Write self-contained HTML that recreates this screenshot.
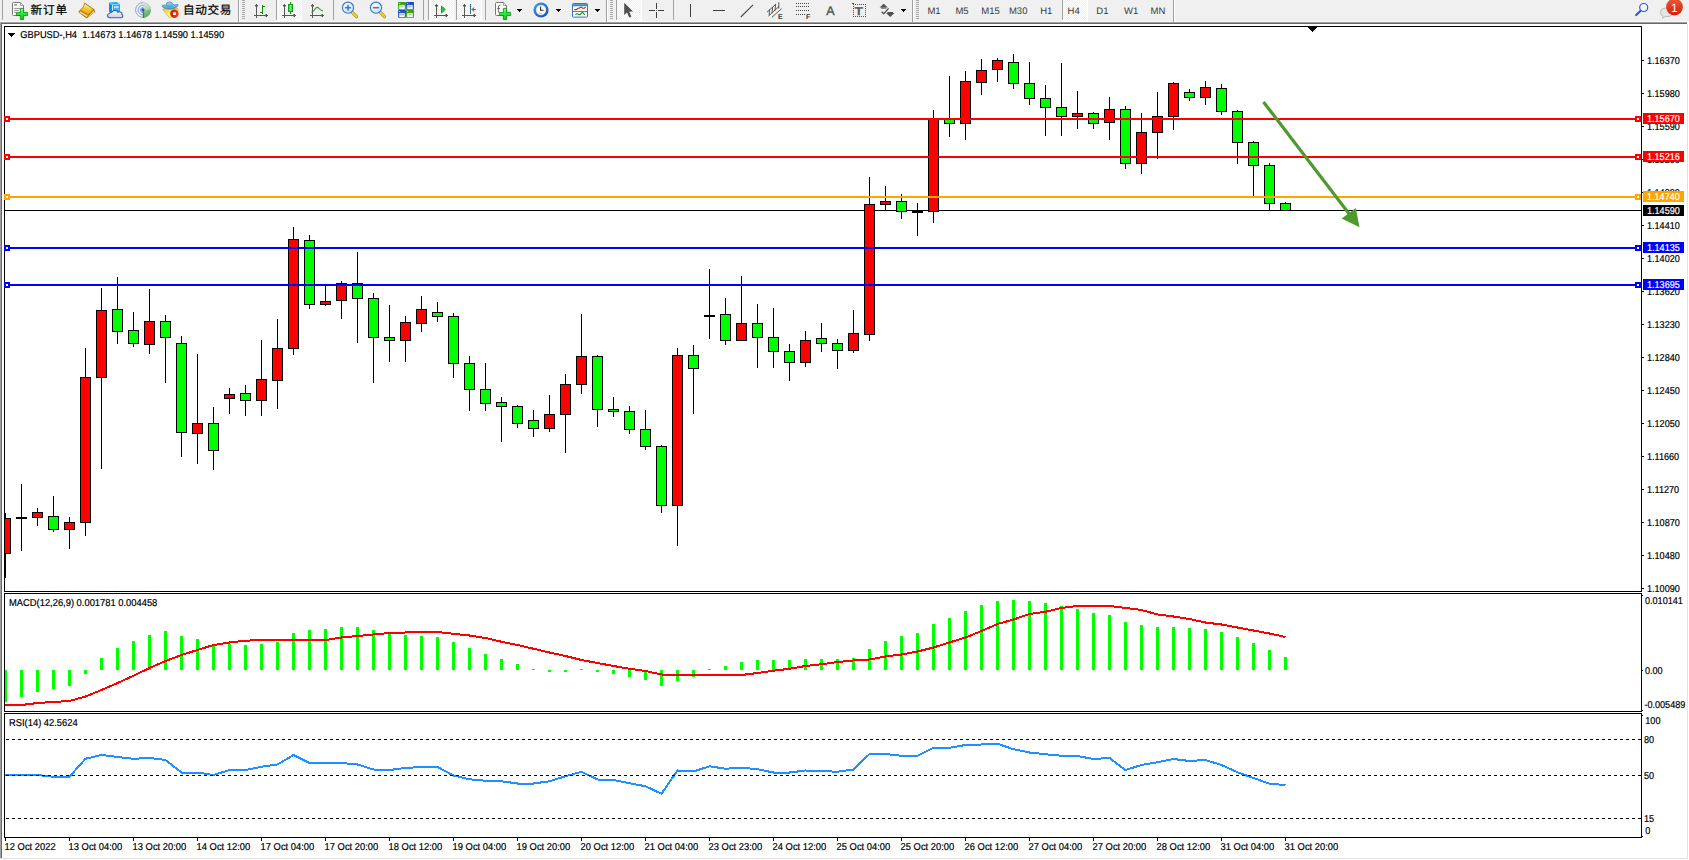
<!DOCTYPE html>
<html lang="zh"><head><meta charset="utf-8"><title>GBPUSD-,H4</title>
<style>html,body{margin:0;padding:0;background:#fff}body{width:1689px;height:860px;overflow:hidden;position:relative}svg{position:absolute;left:0;top:0;display:block}text{text-rendering:geometricPrecision;font-family:"Liberation Sans","Noto Sans CJK SC",sans-serif}</style></head><body>
<svg width="1689" height="860" viewBox="0 0 1689 860">
<defs><clipPath id="cpm"><rect x="5" y="27" width="1636" height="564"/></clipPath>
<pattern id="chk" width="2" height="2" patternUnits="userSpaceOnUse"><rect width="2" height="2" fill="#f0f0f0"/><rect width="1" height="1" fill="#fff"/><rect x="1" y="1" width="1" height="1" fill="#fff"/></pattern>
<linearGradient id="gPlus" x1="0" y1="0" x2="0" y2="1"><stop offset="0" stop-color="#8cf898"/><stop offset="0.5" stop-color="#20e838"/><stop offset="1" stop-color="#08c818"/></linearGradient>
<linearGradient id="gGold" x1="0" y1="0" x2="1" y2="1"><stop offset="0" stop-color="#c88a10"/><stop offset="0.45" stop-color="#f8d860"/><stop offset="1" stop-color="#c08010"/></linearGradient>
<linearGradient id="gCloud" x1="0" y1="0" x2="0" y2="1"><stop offset="0" stop-color="#ffffff"/><stop offset="1" stop-color="#c4d0e4"/></linearGradient>
<linearGradient id="gSrv" x1="0" y1="0" x2="1" y2="0"><stop offset="0" stop-color="#0a90f0"/><stop offset="1" stop-color="#30b8ff"/></linearGradient>
<linearGradient id="gHat" x1="0" y1="0" x2="0" y2="1"><stop offset="0" stop-color="#9ad2f4"/><stop offset="1" stop-color="#48a0d8"/></linearGradient>
<linearGradient id="gFace" x1="0" y1="0" x2="0.3" y2="1"><stop offset="0" stop-color="#f4cc28"/><stop offset="1" stop-color="#ffff98"/></linearGradient>
<linearGradient id="gBadge" x1="0" y1="0" x2="0" y2="1"><stop offset="0" stop-color="#ea5a3c"/><stop offset="1" stop-color="#d81c08"/></linearGradient>
<radialGradient id="gLens" cx="0.4" cy="0.35" r="0.8"><stop offset="0" stop-color="#ffffff"/><stop offset="1" stop-color="#b8dcf4"/></radialGradient>
<linearGradient id="gClock" x1="0" y1="0" x2="1" y2="1"><stop offset="0" stop-color="#40a8f8"/><stop offset="1" stop-color="#0848b0"/></linearGradient>
<linearGradient id="gCandle" x1="0" y1="0" x2="1" y2="0"><stop offset="0" stop-color="#20c030"/><stop offset="0.5" stop-color="#70f080"/><stop offset="1" stop-color="#20c030"/></linearGradient>
<linearGradient id="gTG" x1="0" y1="0" x2="0" y2="1"><stop offset="0" stop-color="#3a9a1a"/><stop offset="1" stop-color="#58b828"/></linearGradient>
<linearGradient id="gTB" x1="0" y1="0" x2="0" y2="1"><stop offset="0" stop-color="#1848c0"/><stop offset="1" stop-color="#3c78e8"/></linearGradient>
<linearGradient id="gTpl" x1="0" y1="0" x2="0" y2="1"><stop offset="0" stop-color="#6aa8e8"/><stop offset="1" stop-color="#3068c0"/></linearGradient>
<g id="axes" fill="#585858" shape-rendering="crispEdges"><rect x="3" y="2" width="1" height="14"/><rect x="1" y="13" width="14" height="1"/><rect x="2" y="3" width="3" height="1"/><rect x="2" y="4" width="1" height="1" opacity="0.5"/><rect x="4" y="4" width="1" height="1" opacity="0.5"/><rect x="13" y="12" width="1" height="3"/><rect x="12" y="12" width="1" height="1" opacity="0.5"/><rect x="12" y="14" width="1" height="1" opacity="0.5"/></g>
<g id="dd"><rect x="0" y="0" width="5" height="1"/><rect x="1" y="1" width="3" height="1"/><rect x="2" y="2" width="1" height="1"/></g>
<g id="grip" fill="#a8a8a8"><rect x="0" y="0" width="3" height="1"/><rect x="0" y="2" width="3" height="1"/><rect x="0" y="4" width="3" height="1"/><rect x="0" y="6" width="3" height="1"/><rect x="0" y="8" width="3" height="1"/><rect x="0" y="10" width="3" height="1"/><rect x="0" y="12" width="3" height="1"/><rect x="0" y="14" width="3" height="1"/><rect x="0" y="16" width="3" height="1"/><rect x="0" y="18" width="3" height="1"/></g>
<g id="plus"><path d="M4.4 0.4H7.6V4.4H11.6V7.6H7.6V11.6H4.4V7.6H0.4V4.4H4.4Z" fill="url(#gPlus)" stroke="#068806" stroke-width="0.8" stroke-linejoin="miter"/></g>
<g id="doc"><path d="M0.5 1.5Q0.5 0.5 1.5 0.5H8.5L11.5 3.5V12.5Q11.5 13.5 10.5 13.5H1.5Q0.5 13.5 0.5 12.5Z" fill="#fdfdfd" stroke="#787878" stroke-width="1"/><path d="M8.5 0.5V3.5H11.5" fill="#e4e4e4" stroke="#8c8c8c" stroke-width="0.8"/></g>
<linearGradient id="gGold2" x1="0.6" y1="0" x2="0.3" y2="1"><stop offset="0" stop-color="#fff8a8"/><stop offset="0.5" stop-color="#f2c628"/><stop offset="1" stop-color="#e0a410"/></linearGradient>
<linearGradient id="gRad" x1="0" y1="0" x2="0.4" y2="1"><stop offset="0" stop-color="#eaf0e6"/><stop offset="0.55" stop-color="#c4dcbc"/><stop offset="1" stop-color="#58b050"/></linearGradient>
<linearGradient id="gStop" x1="0" y1="0" x2="1" y2="0.3"><stop offset="0" stop-color="#b81c00"/><stop offset="1" stop-color="#ff3404"/></linearGradient>

</defs>
<rect x="0" y="0" width="1689" height="860" fill="#ffffff"/>
<g shape-rendering="crispEdges">
<rect x="0" y="0" width="1689" height="21" fill="#f0f0f0"/>
<rect x="0" y="21" width="1689" height="1" fill="#f8f8f8"/>
<rect x="0" y="22" width="1687" height="1" fill="#a0a0a0"/>
<rect x="1" y="23" width="1686" height="1" fill="#696969"/>
<rect x="0" y="22" width="1" height="836" fill="#a0a0a0"/>
<rect x="1" y="23" width="1" height="835" fill="#696969"/>
<rect x="1687" y="24" width="1" height="835" fill="#e3e3e3"/>
<rect x="0" y="858" width="1688" height="1" fill="#e3e3e3"/>
<rect x="4" y="26" width="1638" height="1" fill="#000"/>
<rect x="4" y="591" width="1638" height="1" fill="#000"/>
<rect x="4" y="26" width="1" height="566" fill="#000"/>
<rect x="1641" y="26" width="1" height="566" fill="#000"/>
<rect x="4" y="593" width="1638" height="1" fill="#000"/>
<rect x="4" y="711" width="1638" height="1" fill="#000"/>
<rect x="4" y="593" width="1" height="119" fill="#000"/>
<rect x="1641" y="593" width="1" height="119" fill="#000"/>
<rect x="4" y="713" width="1638" height="1" fill="#000"/>
<rect x="4" y="837" width="1638" height="1" fill="#000"/>
<rect x="4" y="713" width="1" height="125" fill="#000"/>
<rect x="1641" y="713" width="1" height="125" fill="#000"/>
<rect x="1642" y="60" width="2" height="1" fill="#000"/>
<rect x="1642" y="93" width="2" height="1" fill="#000"/>
<rect x="1642" y="126" width="2" height="1" fill="#000"/>
<rect x="1642" y="159" width="2" height="1" fill="#000"/>
<rect x="1642" y="192" width="2" height="1" fill="#000"/>
<rect x="1642" y="225" width="2" height="1" fill="#000"/>
<rect x="1642" y="258" width="2" height="1" fill="#000"/>
<rect x="1642" y="291" width="2" height="1" fill="#000"/>
<rect x="1642" y="324" width="2" height="1" fill="#000"/>
<rect x="1642" y="357" width="2" height="1" fill="#000"/>
<rect x="1642" y="390" width="2" height="1" fill="#000"/>
<rect x="1642" y="423" width="2" height="1" fill="#000"/>
<rect x="1642" y="456" width="2" height="1" fill="#000"/>
<rect x="1642" y="489" width="2" height="1" fill="#000"/>
<rect x="1642" y="522" width="2" height="1" fill="#000"/>
<rect x="1642" y="555" width="2" height="1" fill="#000"/>
<rect x="1642" y="588" width="2" height="1" fill="#000"/>
<rect x="1642" y="595" width="1" height="1" fill="#000"/>
<rect x="1642" y="670" width="1" height="1" fill="#000"/>
<rect x="1642" y="710" width="1" height="1" fill="#000"/>
<rect x="1642" y="715" width="1" height="1" fill="#000"/>
<rect x="1642" y="836" width="1" height="1" fill="#000"/>
<rect x="5" y="838" width="1" height="3" fill="#000"/>
<rect x="69" y="838" width="1" height="3" fill="#000"/>
<rect x="133" y="838" width="1" height="3" fill="#000"/>
<rect x="197" y="838" width="1" height="3" fill="#000"/>
<rect x="261" y="838" width="1" height="3" fill="#000"/>
<rect x="325" y="838" width="1" height="3" fill="#000"/>
<rect x="389" y="838" width="1" height="3" fill="#000"/>
<rect x="453" y="838" width="1" height="3" fill="#000"/>
<rect x="517" y="838" width="1" height="3" fill="#000"/>
<rect x="581" y="838" width="1" height="3" fill="#000"/>
<rect x="645" y="838" width="1" height="3" fill="#000"/>
<rect x="709" y="838" width="1" height="3" fill="#000"/>
<rect x="773" y="838" width="1" height="3" fill="#000"/>
<rect x="837" y="838" width="1" height="3" fill="#000"/>
<rect x="901" y="838" width="1" height="3" fill="#000"/>
<rect x="965" y="838" width="1" height="3" fill="#000"/>
<rect x="1029" y="838" width="1" height="3" fill="#000"/>
<rect x="1093" y="838" width="1" height="3" fill="#000"/>
<rect x="1157" y="838" width="1" height="3" fill="#000"/>
<rect x="1221" y="838" width="1" height="3" fill="#000"/>
<rect x="1285" y="838" width="1" height="3" fill="#000"/>
<rect x="1308" y="27" width="9" height="1" fill="#000"/>
<rect x="1309" y="28" width="7" height="1" fill="#000"/>
<rect x="1310" y="29" width="5" height="1" fill="#000"/>
<rect x="1311" y="30" width="3" height="1" fill="#000"/>
<rect x="1312" y="31" width="1" height="1" fill="#000"/>
<rect x="8" y="33" width="7" height="1" fill="#000"/>
<rect x="9" y="34" width="5" height="1" fill="#000"/>
<rect x="10" y="35" width="3" height="1" fill="#000"/>
<rect x="11" y="36" width="1" height="1" fill="#000"/>
</g>
<g>
<text transform="translate(1647,64) scale(0.908,1)" font-size="10.0" fill="#000" text-anchor="start" font-weight="normal" stroke="#000" stroke-width="0.2">1.16370</text>
<text transform="translate(1647,97) scale(0.908,1)" font-size="10.0" fill="#000" text-anchor="start" font-weight="normal" stroke="#000" stroke-width="0.2">1.15980</text>
<text transform="translate(1647,130) scale(0.908,1)" font-size="10.0" fill="#000" text-anchor="start" font-weight="normal" stroke="#000" stroke-width="0.2">1.15590</text>
<text transform="translate(1647,163) scale(0.908,1)" font-size="10.0" fill="#000" text-anchor="start" font-weight="normal" stroke="#000" stroke-width="0.2">1.15200</text>
<text transform="translate(1647,196) scale(0.908,1)" font-size="10.0" fill="#000" text-anchor="start" font-weight="normal" stroke="#000" stroke-width="0.2">1.14800</text>
<text transform="translate(1647,229) scale(0.908,1)" font-size="10.0" fill="#000" text-anchor="start" font-weight="normal" stroke="#000" stroke-width="0.2">1.14410</text>
<text transform="translate(1647,262) scale(0.908,1)" font-size="10.0" fill="#000" text-anchor="start" font-weight="normal" stroke="#000" stroke-width="0.2">1.14020</text>
<text transform="translate(1647,295) scale(0.908,1)" font-size="10.0" fill="#000" text-anchor="start" font-weight="normal" stroke="#000" stroke-width="0.2">1.13620</text>
<text transform="translate(1647,328) scale(0.908,1)" font-size="10.0" fill="#000" text-anchor="start" font-weight="normal" stroke="#000" stroke-width="0.2">1.13230</text>
<text transform="translate(1647,361) scale(0.908,1)" font-size="10.0" fill="#000" text-anchor="start" font-weight="normal" stroke="#000" stroke-width="0.2">1.12840</text>
<text transform="translate(1647,394) scale(0.908,1)" font-size="10.0" fill="#000" text-anchor="start" font-weight="normal" stroke="#000" stroke-width="0.2">1.12450</text>
<text transform="translate(1647,427) scale(0.908,1)" font-size="10.0" fill="#000" text-anchor="start" font-weight="normal" stroke="#000" stroke-width="0.2">1.12050</text>
<text transform="translate(1647,460) scale(0.908,1)" font-size="10.0" fill="#000" text-anchor="start" font-weight="normal" stroke="#000" stroke-width="0.2">1.11660</text>
<text transform="translate(1647,493) scale(0.908,1)" font-size="10.0" fill="#000" text-anchor="start" font-weight="normal" stroke="#000" stroke-width="0.2">1.11270</text>
<text transform="translate(1647,526) scale(0.908,1)" font-size="10.0" fill="#000" text-anchor="start" font-weight="normal" stroke="#000" stroke-width="0.2">1.10870</text>
<text transform="translate(1647,559) scale(0.908,1)" font-size="10.0" fill="#000" text-anchor="start" font-weight="normal" stroke="#000" stroke-width="0.2">1.10480</text>
<text transform="translate(1647,592) scale(0.908,1)" font-size="10.0" fill="#000" text-anchor="start" font-weight="normal" stroke="#000" stroke-width="0.2">1.10090</text>
<text transform="translate(1645,604) scale(0.908,1)" font-size="10.0" fill="#000" text-anchor="start" font-weight="normal" stroke="#000" stroke-width="0.2">0.010141</text>
<text transform="translate(1645,674) scale(0.908,1)" font-size="10.0" fill="#000" text-anchor="start" font-weight="normal" stroke="#000" stroke-width="0.2">0.00</text>
<text transform="translate(1644.4,708) scale(0.908,1)" font-size="10.0" fill="#000" text-anchor="start" font-weight="normal" stroke="#000" stroke-width="0.2">-0.005489</text>
<text transform="translate(1645.3,724) scale(0.908,1)" font-size="10.0" fill="#000" text-anchor="start" font-weight="normal" stroke="#000" stroke-width="0.2">100</text>
<text transform="translate(1644,743) scale(0.908,1)" font-size="10.0" fill="#000" text-anchor="start" font-weight="normal" stroke="#000" stroke-width="0.2">80</text>
<text transform="translate(1644,779) scale(0.908,1)" font-size="10.0" fill="#000" text-anchor="start" font-weight="normal" stroke="#000" stroke-width="0.2">50</text>
<text transform="translate(1644,822) scale(0.908,1)" font-size="10.0" fill="#000" text-anchor="start" font-weight="normal" stroke="#000" stroke-width="0.2">15</text>
<text transform="translate(1645.2,834) scale(0.908,1)" font-size="10.0" fill="#000" text-anchor="start" font-weight="normal" stroke="#000" stroke-width="0.2">0</text>
<text transform="translate(4.6,850) scale(0.936,1)" font-size="10.0" fill="#000" text-anchor="start" font-weight="normal" stroke="#000" stroke-width="0.2">12 Oct 2022</text>
<text transform="translate(68.6,850) scale(0.936,1)" font-size="10.0" fill="#000" text-anchor="start" font-weight="normal" stroke="#000" stroke-width="0.2">13 Oct 04:00</text>
<text transform="translate(132.6,850) scale(0.936,1)" font-size="10.0" fill="#000" text-anchor="start" font-weight="normal" stroke="#000" stroke-width="0.2">13 Oct 20:00</text>
<text transform="translate(196.6,850) scale(0.936,1)" font-size="10.0" fill="#000" text-anchor="start" font-weight="normal" stroke="#000" stroke-width="0.2">14 Oct 12:00</text>
<text transform="translate(260.6,850) scale(0.936,1)" font-size="10.0" fill="#000" text-anchor="start" font-weight="normal" stroke="#000" stroke-width="0.2">17 Oct 04:00</text>
<text transform="translate(324.6,850) scale(0.936,1)" font-size="10.0" fill="#000" text-anchor="start" font-weight="normal" stroke="#000" stroke-width="0.2">17 Oct 20:00</text>
<text transform="translate(388.6,850) scale(0.936,1)" font-size="10.0" fill="#000" text-anchor="start" font-weight="normal" stroke="#000" stroke-width="0.2">18 Oct 12:00</text>
<text transform="translate(452.6,850) scale(0.936,1)" font-size="10.0" fill="#000" text-anchor="start" font-weight="normal" stroke="#000" stroke-width="0.2">19 Oct 04:00</text>
<text transform="translate(516.6,850) scale(0.936,1)" font-size="10.0" fill="#000" text-anchor="start" font-weight="normal" stroke="#000" stroke-width="0.2">19 Oct 20:00</text>
<text transform="translate(580.6,850) scale(0.936,1)" font-size="10.0" fill="#000" text-anchor="start" font-weight="normal" stroke="#000" stroke-width="0.2">20 Oct 12:00</text>
<text transform="translate(644.6,850) scale(0.936,1)" font-size="10.0" fill="#000" text-anchor="start" font-weight="normal" stroke="#000" stroke-width="0.2">21 Oct 04:00</text>
<text transform="translate(708.6,850) scale(0.936,1)" font-size="10.0" fill="#000" text-anchor="start" font-weight="normal" stroke="#000" stroke-width="0.2">23 Oct 23:00</text>
<text transform="translate(772.6,850) scale(0.936,1)" font-size="10.0" fill="#000" text-anchor="start" font-weight="normal" stroke="#000" stroke-width="0.2">24 Oct 12:00</text>
<text transform="translate(836.6,850) scale(0.936,1)" font-size="10.0" fill="#000" text-anchor="start" font-weight="normal" stroke="#000" stroke-width="0.2">25 Oct 04:00</text>
<text transform="translate(900.6,850) scale(0.936,1)" font-size="10.0" fill="#000" text-anchor="start" font-weight="normal" stroke="#000" stroke-width="0.2">25 Oct 20:00</text>
<text transform="translate(964.6,850) scale(0.936,1)" font-size="10.0" fill="#000" text-anchor="start" font-weight="normal" stroke="#000" stroke-width="0.2">26 Oct 12:00</text>
<text transform="translate(1028.6,850) scale(0.936,1)" font-size="10.0" fill="#000" text-anchor="start" font-weight="normal" stroke="#000" stroke-width="0.2">27 Oct 04:00</text>
<text transform="translate(1092.6,850) scale(0.936,1)" font-size="10.0" fill="#000" text-anchor="start" font-weight="normal" stroke="#000" stroke-width="0.2">27 Oct 20:00</text>
<text transform="translate(1156.6,850) scale(0.936,1)" font-size="10.0" fill="#000" text-anchor="start" font-weight="normal" stroke="#000" stroke-width="0.2">28 Oct 12:00</text>
<text transform="translate(1220.6,850) scale(0.936,1)" font-size="10.0" fill="#000" text-anchor="start" font-weight="normal" stroke="#000" stroke-width="0.2">31 Oct 04:00</text>
<text transform="translate(1284.6,850) scale(0.936,1)" font-size="10.0" fill="#000" text-anchor="start" font-weight="normal" stroke="#000" stroke-width="0.2">31 Oct 20:00</text>
<text transform="translate(20.3,37.7) scale(0.928,1)" font-size="10.0" fill="#000" text-anchor="start" font-weight="normal" stroke="#000" stroke-width="0.2">GBPUSD-,H4&#160;&#160;1.14673 1.14678 1.14590 1.14590</text>
<text transform="translate(9,605.6) scale(0.936,1)" font-size="10.0" fill="#000" text-anchor="start" font-weight="normal" stroke="#000" stroke-width="0.2">MACD(12,26,9) 0.001781 0.004458</text>
<text transform="translate(9,726) scale(0.936,1)" font-size="10.0" fill="#000" text-anchor="start" font-weight="normal" stroke="#000" stroke-width="0.2">RSI(14) 42.5624</text>
</g>
<g shape-rendering="crispEdges">
<rect x="5" y="210" width="1636" height="1" fill="#000"/>
<g clip-path="url(#cpm)">
<rect x="5" y="513" width="1" height="65" fill="#000"/>
<rect x="0" y="518" width="11" height="36" fill="#000"/>
<rect x="1" y="519" width="9" height="34" fill="#ff0000"/>
<rect x="21" y="484" width="1" height="67" fill="#000"/>
<rect x="16" y="517" width="11" height="2" fill="#000"/>
<rect x="37" y="508" width="1" height="18" fill="#000"/>
<rect x="32" y="512" width="11" height="6" fill="#000"/>
<rect x="33" y="513" width="9" height="4" fill="#ff0000"/>
<rect x="53" y="496" width="1" height="36" fill="#000"/>
<rect x="48" y="516" width="11" height="14" fill="#000"/>
<rect x="49" y="517" width="9" height="12" fill="#00ff00"/>
<rect x="69" y="517" width="1" height="32" fill="#000"/>
<rect x="64" y="522" width="11" height="8" fill="#000"/>
<rect x="65" y="523" width="9" height="6" fill="#ff0000"/>
<rect x="85" y="348" width="1" height="188" fill="#000"/>
<rect x="80" y="377" width="11" height="146" fill="#000"/>
<rect x="81" y="378" width="9" height="144" fill="#ff0000"/>
<rect x="101" y="288" width="1" height="181" fill="#000"/>
<rect x="96" y="310" width="11" height="68" fill="#000"/>
<rect x="97" y="311" width="9" height="66" fill="#ff0000"/>
<rect x="117" y="277" width="1" height="67" fill="#000"/>
<rect x="112" y="309" width="11" height="23" fill="#000"/>
<rect x="113" y="310" width="9" height="21" fill="#00ff00"/>
<rect x="133" y="312" width="1" height="35" fill="#000"/>
<rect x="128" y="330" width="11" height="14" fill="#000"/>
<rect x="129" y="331" width="9" height="12" fill="#00ff00"/>
<rect x="149" y="289" width="1" height="65" fill="#000"/>
<rect x="144" y="321" width="11" height="24" fill="#000"/>
<rect x="145" y="322" width="9" height="22" fill="#ff0000"/>
<rect x="165" y="315" width="1" height="68" fill="#000"/>
<rect x="160" y="321" width="11" height="17" fill="#000"/>
<rect x="161" y="322" width="9" height="15" fill="#00ff00"/>
<rect x="181" y="336" width="1" height="121" fill="#000"/>
<rect x="176" y="343" width="11" height="90" fill="#000"/>
<rect x="177" y="344" width="9" height="88" fill="#00ff00"/>
<rect x="197" y="354" width="1" height="110" fill="#000"/>
<rect x="192" y="423" width="11" height="11" fill="#000"/>
<rect x="193" y="424" width="9" height="9" fill="#ff0000"/>
<rect x="213" y="407" width="1" height="63" fill="#000"/>
<rect x="208" y="423" width="11" height="28" fill="#000"/>
<rect x="209" y="424" width="9" height="26" fill="#00ff00"/>
<rect x="229" y="388" width="1" height="26" fill="#000"/>
<rect x="224" y="394" width="11" height="5" fill="#000"/>
<rect x="225" y="395" width="9" height="3" fill="#ff0000"/>
<rect x="245" y="385" width="1" height="31" fill="#000"/>
<rect x="240" y="393" width="11" height="8" fill="#000"/>
<rect x="241" y="394" width="9" height="6" fill="#00ff00"/>
<rect x="261" y="340" width="1" height="76" fill="#000"/>
<rect x="256" y="379" width="11" height="22" fill="#000"/>
<rect x="257" y="380" width="9" height="20" fill="#ff0000"/>
<rect x="277" y="319" width="1" height="90" fill="#000"/>
<rect x="272" y="348" width="11" height="33" fill="#000"/>
<rect x="273" y="349" width="9" height="31" fill="#ff0000"/>
<rect x="293" y="227" width="1" height="128" fill="#000"/>
<rect x="288" y="239" width="11" height="110" fill="#000"/>
<rect x="289" y="240" width="9" height="108" fill="#ff0000"/>
<rect x="309" y="235" width="1" height="74" fill="#000"/>
<rect x="304" y="240" width="11" height="65" fill="#000"/>
<rect x="305" y="241" width="9" height="63" fill="#00ff00"/>
<rect x="325" y="285" width="1" height="21" fill="#000"/>
<rect x="320" y="301" width="11" height="4" fill="#000"/>
<rect x="321" y="302" width="9" height="2" fill="#ff0000"/>
<rect x="341" y="281" width="1" height="38" fill="#000"/>
<rect x="336" y="283" width="11" height="18" fill="#000"/>
<rect x="337" y="284" width="9" height="16" fill="#ff0000"/>
<rect x="357" y="252" width="1" height="91" fill="#000"/>
<rect x="352" y="283" width="11" height="16" fill="#000"/>
<rect x="353" y="284" width="9" height="14" fill="#00ff00"/>
<rect x="373" y="293" width="1" height="90" fill="#000"/>
<rect x="368" y="298" width="11" height="40" fill="#000"/>
<rect x="369" y="299" width="9" height="38" fill="#00ff00"/>
<rect x="389" y="305" width="1" height="57" fill="#000"/>
<rect x="384" y="337" width="11" height="4" fill="#000"/>
<rect x="385" y="338" width="9" height="2" fill="#00ff00"/>
<rect x="405" y="316" width="1" height="46" fill="#000"/>
<rect x="400" y="322" width="11" height="19" fill="#000"/>
<rect x="401" y="323" width="9" height="17" fill="#ff0000"/>
<rect x="421" y="296" width="1" height="36" fill="#000"/>
<rect x="416" y="309" width="11" height="15" fill="#000"/>
<rect x="417" y="310" width="9" height="13" fill="#ff0000"/>
<rect x="437" y="302" width="1" height="20" fill="#000"/>
<rect x="432" y="312" width="11" height="5" fill="#000"/>
<rect x="433" y="313" width="9" height="3" fill="#00ff00"/>
<rect x="453" y="313" width="1" height="65" fill="#000"/>
<rect x="448" y="316" width="11" height="48" fill="#000"/>
<rect x="449" y="317" width="9" height="46" fill="#00ff00"/>
<rect x="469" y="356" width="1" height="55" fill="#000"/>
<rect x="464" y="363" width="11" height="27" fill="#000"/>
<rect x="465" y="364" width="9" height="25" fill="#00ff00"/>
<rect x="485" y="363" width="1" height="48" fill="#000"/>
<rect x="480" y="389" width="11" height="15" fill="#000"/>
<rect x="481" y="390" width="9" height="13" fill="#00ff00"/>
<rect x="501" y="397" width="1" height="45" fill="#000"/>
<rect x="496" y="402" width="11" height="5" fill="#000"/>
<rect x="497" y="403" width="9" height="3" fill="#00ff00"/>
<rect x="517" y="405" width="1" height="23" fill="#000"/>
<rect x="512" y="406" width="11" height="18" fill="#000"/>
<rect x="513" y="407" width="9" height="16" fill="#00ff00"/>
<rect x="533" y="410" width="1" height="27" fill="#000"/>
<rect x="528" y="420" width="11" height="9" fill="#000"/>
<rect x="529" y="421" width="9" height="7" fill="#00ff00"/>
<rect x="549" y="395" width="1" height="37" fill="#000"/>
<rect x="544" y="414" width="11" height="15" fill="#000"/>
<rect x="545" y="415" width="9" height="13" fill="#ff0000"/>
<rect x="565" y="374" width="1" height="79" fill="#000"/>
<rect x="560" y="384" width="11" height="31" fill="#000"/>
<rect x="561" y="385" width="9" height="29" fill="#ff0000"/>
<rect x="581" y="314" width="1" height="80" fill="#000"/>
<rect x="576" y="356" width="11" height="29" fill="#000"/>
<rect x="577" y="357" width="9" height="27" fill="#ff0000"/>
<rect x="597" y="355" width="1" height="72" fill="#000"/>
<rect x="592" y="356" width="11" height="54" fill="#000"/>
<rect x="593" y="357" width="9" height="52" fill="#00ff00"/>
<rect x="613" y="397" width="1" height="20" fill="#000"/>
<rect x="608" y="409" width="11" height="3" fill="#000"/>
<rect x="609" y="410" width="9" height="1" fill="#00ff00"/>
<rect x="629" y="406" width="1" height="28" fill="#000"/>
<rect x="624" y="411" width="11" height="19" fill="#000"/>
<rect x="625" y="412" width="9" height="17" fill="#00ff00"/>
<rect x="645" y="410" width="1" height="40" fill="#000"/>
<rect x="640" y="429" width="11" height="18" fill="#000"/>
<rect x="641" y="430" width="9" height="16" fill="#00ff00"/>
<rect x="661" y="445" width="1" height="68" fill="#000"/>
<rect x="656" y="446" width="11" height="60" fill="#000"/>
<rect x="657" y="447" width="9" height="58" fill="#00ff00"/>
<rect x="677" y="348" width="1" height="198" fill="#000"/>
<rect x="672" y="355" width="11" height="151" fill="#000"/>
<rect x="673" y="356" width="9" height="149" fill="#ff0000"/>
<rect x="693" y="345" width="1" height="69" fill="#000"/>
<rect x="688" y="355" width="11" height="14" fill="#000"/>
<rect x="689" y="356" width="9" height="12" fill="#00ff00"/>
<rect x="709" y="269" width="1" height="70" fill="#000"/>
<rect x="704" y="315" width="11" height="2" fill="#000"/>
<rect x="725" y="298" width="1" height="47" fill="#000"/>
<rect x="720" y="314" width="11" height="27" fill="#000"/>
<rect x="721" y="315" width="9" height="25" fill="#00ff00"/>
<rect x="741" y="276" width="1" height="65" fill="#000"/>
<rect x="736" y="323" width="11" height="18" fill="#000"/>
<rect x="737" y="324" width="9" height="16" fill="#ff0000"/>
<rect x="757" y="304" width="1" height="64" fill="#000"/>
<rect x="752" y="323" width="11" height="15" fill="#000"/>
<rect x="753" y="324" width="9" height="13" fill="#00ff00"/>
<rect x="773" y="308" width="1" height="60" fill="#000"/>
<rect x="768" y="337" width="11" height="15" fill="#000"/>
<rect x="769" y="338" width="9" height="13" fill="#00ff00"/>
<rect x="789" y="344" width="1" height="37" fill="#000"/>
<rect x="784" y="351" width="11" height="12" fill="#000"/>
<rect x="785" y="352" width="9" height="10" fill="#00ff00"/>
<rect x="805" y="331" width="1" height="36" fill="#000"/>
<rect x="800" y="340" width="11" height="23" fill="#000"/>
<rect x="801" y="341" width="9" height="21" fill="#ff0000"/>
<rect x="821" y="323" width="1" height="29" fill="#000"/>
<rect x="816" y="338" width="11" height="6" fill="#000"/>
<rect x="817" y="339" width="9" height="4" fill="#00ff00"/>
<rect x="837" y="339" width="1" height="30" fill="#000"/>
<rect x="832" y="343" width="11" height="8" fill="#000"/>
<rect x="833" y="344" width="9" height="6" fill="#00ff00"/>
<rect x="853" y="310" width="1" height="43" fill="#000"/>
<rect x="848" y="333" width="11" height="18" fill="#000"/>
<rect x="849" y="334" width="9" height="16" fill="#ff0000"/>
<rect x="869" y="177" width="1" height="164" fill="#000"/>
<rect x="864" y="204" width="11" height="131" fill="#000"/>
<rect x="865" y="205" width="9" height="129" fill="#ff0000"/>
<rect x="885" y="186" width="1" height="25" fill="#000"/>
<rect x="880" y="201" width="11" height="4" fill="#000"/>
<rect x="881" y="202" width="9" height="2" fill="#ff0000"/>
<rect x="901" y="194" width="1" height="25" fill="#000"/>
<rect x="896" y="201" width="11" height="11" fill="#000"/>
<rect x="897" y="202" width="9" height="9" fill="#00ff00"/>
<rect x="917" y="203" width="1" height="33" fill="#000"/>
<rect x="912" y="211" width="11" height="2" fill="#000"/>
<rect x="933" y="110" width="1" height="113" fill="#000"/>
<rect x="928" y="118" width="11" height="94" fill="#000"/>
<rect x="929" y="119" width="9" height="92" fill="#ff0000"/>
<rect x="949" y="76" width="1" height="61" fill="#000"/>
<rect x="944" y="119" width="11" height="5" fill="#000"/>
<rect x="945" y="120" width="9" height="3" fill="#00ff00"/>
<rect x="965" y="71" width="1" height="69" fill="#000"/>
<rect x="960" y="81" width="11" height="43" fill="#000"/>
<rect x="961" y="82" width="9" height="41" fill="#ff0000"/>
<rect x="981" y="59" width="1" height="36" fill="#000"/>
<rect x="976" y="70" width="11" height="13" fill="#000"/>
<rect x="977" y="71" width="9" height="11" fill="#ff0000"/>
<rect x="997" y="58" width="1" height="24" fill="#000"/>
<rect x="992" y="60" width="11" height="10" fill="#000"/>
<rect x="993" y="61" width="9" height="8" fill="#ff0000"/>
<rect x="1013" y="54" width="1" height="35" fill="#000"/>
<rect x="1008" y="62" width="11" height="22" fill="#000"/>
<rect x="1009" y="63" width="9" height="20" fill="#00ff00"/>
<rect x="1029" y="62" width="1" height="43" fill="#000"/>
<rect x="1024" y="83" width="11" height="16" fill="#000"/>
<rect x="1025" y="84" width="9" height="14" fill="#00ff00"/>
<rect x="1045" y="85" width="1" height="51" fill="#000"/>
<rect x="1040" y="98" width="11" height="10" fill="#000"/>
<rect x="1041" y="99" width="9" height="8" fill="#00ff00"/>
<rect x="1061" y="63" width="1" height="73" fill="#000"/>
<rect x="1056" y="107" width="11" height="10" fill="#000"/>
<rect x="1057" y="108" width="9" height="8" fill="#00ff00"/>
<rect x="1077" y="91" width="1" height="38" fill="#000"/>
<rect x="1072" y="113" width="11" height="4" fill="#000"/>
<rect x="1073" y="114" width="9" height="2" fill="#ff0000"/>
<rect x="1093" y="112" width="1" height="17" fill="#000"/>
<rect x="1088" y="113" width="11" height="11" fill="#000"/>
<rect x="1089" y="114" width="9" height="9" fill="#00ff00"/>
<rect x="1109" y="97" width="1" height="43" fill="#000"/>
<rect x="1104" y="109" width="11" height="14" fill="#000"/>
<rect x="1105" y="110" width="9" height="12" fill="#ff0000"/>
<rect x="1125" y="106" width="1" height="63" fill="#000"/>
<rect x="1120" y="109" width="11" height="55" fill="#000"/>
<rect x="1121" y="110" width="9" height="53" fill="#00ff00"/>
<rect x="1141" y="113" width="1" height="61" fill="#000"/>
<rect x="1136" y="132" width="11" height="32" fill="#000"/>
<rect x="1137" y="133" width="9" height="30" fill="#ff0000"/>
<rect x="1157" y="92" width="1" height="67" fill="#000"/>
<rect x="1152" y="116" width="11" height="17" fill="#000"/>
<rect x="1153" y="117" width="9" height="15" fill="#ff0000"/>
<rect x="1173" y="82" width="1" height="48" fill="#000"/>
<rect x="1168" y="83" width="11" height="34" fill="#000"/>
<rect x="1169" y="84" width="9" height="32" fill="#ff0000"/>
<rect x="1189" y="89" width="1" height="12" fill="#000"/>
<rect x="1184" y="92" width="11" height="6" fill="#000"/>
<rect x="1185" y="93" width="9" height="4" fill="#00ff00"/>
<rect x="1205" y="81" width="1" height="24" fill="#000"/>
<rect x="1200" y="87" width="11" height="11" fill="#000"/>
<rect x="1201" y="88" width="9" height="9" fill="#ff0000"/>
<rect x="1221" y="84" width="1" height="31" fill="#000"/>
<rect x="1216" y="88" width="11" height="24" fill="#000"/>
<rect x="1217" y="89" width="9" height="22" fill="#00ff00"/>
<rect x="1237" y="110" width="1" height="54" fill="#000"/>
<rect x="1232" y="111" width="11" height="32" fill="#000"/>
<rect x="1233" y="112" width="9" height="30" fill="#00ff00"/>
<rect x="1253" y="141" width="1" height="55" fill="#000"/>
<rect x="1248" y="142" width="11" height="24" fill="#000"/>
<rect x="1249" y="143" width="9" height="22" fill="#00ff00"/>
<rect x="1269" y="163" width="1" height="48" fill="#000"/>
<rect x="1264" y="165" width="11" height="39" fill="#000"/>
<rect x="1265" y="166" width="9" height="37" fill="#00ff00"/>
<rect x="1285" y="202" width="1" height="9" fill="#000"/>
<rect x="1280" y="203" width="11" height="8" fill="#000"/>
<rect x="1281" y="204" width="9" height="6" fill="#00ff00"/>
</g>
<rect x="5" y="118" width="1636" height="2" fill="#ff0000"/>
<rect x="4" y="116" width="6" height="6" fill="#ff0000"/>
<rect x="6" y="118" width="2" height="2" fill="#fff"/>
<rect x="1635" y="116" width="6" height="6" fill="#ff0000"/>
<rect x="1637" y="118" width="2" height="2" fill="#fff"/>
<rect x="5" y="156" width="1636" height="2" fill="#ff0000"/>
<rect x="4" y="154" width="6" height="6" fill="#ff0000"/>
<rect x="6" y="156" width="2" height="2" fill="#fff"/>
<rect x="1635" y="154" width="6" height="6" fill="#ff0000"/>
<rect x="1637" y="156" width="2" height="2" fill="#fff"/>
<rect x="5" y="196" width="1636" height="2" fill="#ffa500"/>
<rect x="4" y="194" width="6" height="6" fill="#ffa500"/>
<rect x="6" y="196" width="2" height="2" fill="#fff"/>
<rect x="1635" y="194" width="6" height="6" fill="#ffa500"/>
<rect x="1637" y="196" width="2" height="2" fill="#fff"/>
<rect x="5" y="247" width="1636" height="2" fill="#0000ff"/>
<rect x="4" y="245" width="6" height="6" fill="#0000ff"/>
<rect x="6" y="247" width="2" height="2" fill="#fff"/>
<rect x="1635" y="245" width="6" height="6" fill="#0000ff"/>
<rect x="1637" y="247" width="2" height="2" fill="#fff"/>
<rect x="5" y="284" width="1636" height="2" fill="#0000ff"/>
<rect x="4" y="282" width="6" height="6" fill="#0000ff"/>
<rect x="6" y="284" width="2" height="2" fill="#fff"/>
<rect x="1635" y="282" width="6" height="6" fill="#0000ff"/>
<rect x="1637" y="284" width="2" height="2" fill="#fff"/>
<rect x="5" y="670" width="2" height="32" fill="#00ff00"/>
<rect x="20" y="670" width="3" height="27" fill="#00ff00"/>
<rect x="36" y="670" width="3" height="22" fill="#00ff00"/>
<rect x="52" y="670" width="3" height="19" fill="#00ff00"/>
<rect x="68" y="670" width="3" height="16" fill="#00ff00"/>
<rect x="84" y="670" width="3" height="4" fill="#00ff00"/>
<rect x="100" y="658" width="3" height="12" fill="#00ff00"/>
<rect x="116" y="648" width="3" height="22" fill="#00ff00"/>
<rect x="132" y="641" width="3" height="29" fill="#00ff00"/>
<rect x="148" y="635" width="3" height="35" fill="#00ff00"/>
<rect x="164" y="631" width="3" height="39" fill="#00ff00"/>
<rect x="180" y="636" width="3" height="34" fill="#00ff00"/>
<rect x="196" y="639" width="3" height="31" fill="#00ff00"/>
<rect x="212" y="644" width="3" height="26" fill="#00ff00"/>
<rect x="228" y="644" width="3" height="26" fill="#00ff00"/>
<rect x="244" y="645" width="3" height="25" fill="#00ff00"/>
<rect x="260" y="644" width="3" height="26" fill="#00ff00"/>
<rect x="276" y="642" width="3" height="28" fill="#00ff00"/>
<rect x="292" y="633" width="3" height="37" fill="#00ff00"/>
<rect x="308" y="630" width="3" height="40" fill="#00ff00"/>
<rect x="324" y="629" width="3" height="41" fill="#00ff00"/>
<rect x="340" y="627" width="3" height="43" fill="#00ff00"/>
<rect x="356" y="627" width="3" height="43" fill="#00ff00"/>
<rect x="372" y="630" width="3" height="40" fill="#00ff00"/>
<rect x="388" y="634" width="3" height="36" fill="#00ff00"/>
<rect x="404" y="635" width="3" height="35" fill="#00ff00"/>
<rect x="420" y="636" width="3" height="34" fill="#00ff00"/>
<rect x="436" y="637" width="3" height="33" fill="#00ff00"/>
<rect x="452" y="642" width="3" height="28" fill="#00ff00"/>
<rect x="468" y="648" width="3" height="22" fill="#00ff00"/>
<rect x="484" y="654" width="3" height="16" fill="#00ff00"/>
<rect x="500" y="659" width="3" height="11" fill="#00ff00"/>
<rect x="516" y="664" width="3" height="6" fill="#00ff00"/>
<rect x="532" y="669" width="3" height="1" fill="#00ff00"/>
<rect x="548" y="670" width="3" height="2" fill="#00ff00"/>
<rect x="564" y="670" width="3" height="2" fill="#00ff00"/>
<rect x="580" y="669" width="3" height="1" fill="#00ff00"/>
<rect x="596" y="670" width="3" height="2" fill="#00ff00"/>
<rect x="612" y="670" width="3" height="4" fill="#00ff00"/>
<rect x="628" y="670" width="3" height="7" fill="#00ff00"/>
<rect x="644" y="670" width="3" height="10" fill="#00ff00"/>
<rect x="660" y="670" width="3" height="16" fill="#00ff00"/>
<rect x="676" y="670" width="3" height="11" fill="#00ff00"/>
<rect x="692" y="670" width="3" height="7" fill="#00ff00"/>
<rect x="708" y="669" width="3" height="1" fill="#00ff00"/>
<rect x="724" y="666" width="3" height="4" fill="#00ff00"/>
<rect x="740" y="662" width="3" height="8" fill="#00ff00"/>
<rect x="756" y="660" width="3" height="10" fill="#00ff00"/>
<rect x="772" y="660" width="3" height="10" fill="#00ff00"/>
<rect x="788" y="660" width="3" height="10" fill="#00ff00"/>
<rect x="804" y="659" width="3" height="11" fill="#00ff00"/>
<rect x="820" y="659" width="3" height="11" fill="#00ff00"/>
<rect x="836" y="659" width="3" height="11" fill="#00ff00"/>
<rect x="852" y="658" width="3" height="12" fill="#00ff00"/>
<rect x="868" y="649" width="3" height="21" fill="#00ff00"/>
<rect x="884" y="641" width="3" height="29" fill="#00ff00"/>
<rect x="900" y="636" width="3" height="34" fill="#00ff00"/>
<rect x="916" y="633" width="3" height="37" fill="#00ff00"/>
<rect x="932" y="624" width="3" height="46" fill="#00ff00"/>
<rect x="948" y="618" width="3" height="52" fill="#00ff00"/>
<rect x="964" y="611" width="3" height="59" fill="#00ff00"/>
<rect x="980" y="605" width="3" height="65" fill="#00ff00"/>
<rect x="996" y="601" width="3" height="69" fill="#00ff00"/>
<rect x="1012" y="600" width="3" height="70" fill="#00ff00"/>
<rect x="1028" y="601" width="3" height="69" fill="#00ff00"/>
<rect x="1044" y="603" width="3" height="67" fill="#00ff00"/>
<rect x="1060" y="606" width="3" height="64" fill="#00ff00"/>
<rect x="1076" y="609" width="3" height="61" fill="#00ff00"/>
<rect x="1092" y="613" width="3" height="57" fill="#00ff00"/>
<rect x="1108" y="615" width="3" height="55" fill="#00ff00"/>
<rect x="1124" y="622" width="3" height="48" fill="#00ff00"/>
<rect x="1140" y="625" width="3" height="45" fill="#00ff00"/>
<rect x="1156" y="627" width="3" height="43" fill="#00ff00"/>
<rect x="1172" y="627" width="3" height="43" fill="#00ff00"/>
<rect x="1188" y="628" width="3" height="42" fill="#00ff00"/>
<rect x="1204" y="629" width="3" height="41" fill="#00ff00"/>
<rect x="1220" y="632" width="3" height="38" fill="#00ff00"/>
<rect x="1236" y="637" width="3" height="33" fill="#00ff00"/>
<rect x="1252" y="643" width="3" height="27" fill="#00ff00"/>
<rect x="1268" y="650" width="3" height="20" fill="#00ff00"/>
<rect x="1284" y="657" width="3" height="13" fill="#00ff00"/>
<polyline points="5,705 5.5,705 21.5,705 37.5,703 53.5,702 69.5,701 85.5,696.5 101.5,690 117.5,683 133.5,675.7 149.5,668 165.5,661 181.5,655 197.5,650 213.5,645 229.5,642.5 245.5,640.7 261.5,640 325.5,640 341.5,637.5 357.5,636 373.5,634.5 389.5,633 405.5,632.5 421.5,632 437.5,632 453.5,633.75 469.5,635.5 485.5,638 501.5,641.75 517.5,645 533.5,648.75 549.5,652.5 565.5,656 581.5,660 597.5,663 613.5,666 629.5,668.75 645.5,671 661.5,674.5 677.5,675 741.5,675 757.5,673 773.5,670.75 789.5,668.75 805.5,666 821.5,664.25 837.5,662 853.5,660.5 869.5,659.5 885.5,656.5 901.5,654.5 917.5,651.5 933.5,647.5 949.5,642.5 965.5,637.5 981.5,631 997.5,624 1013.5,619.5 1029.5,614 1045.5,611.75 1061.5,608 1077.5,606 1093.5,605.75 1109.5,606 1125.5,608 1141.5,610 1157.5,614.5 1173.5,616.5 1189.5,619 1205.5,622.5 1221.5,624.5 1237.5,627.5 1253.5,630.5 1269.5,633.5 1285.5,637" fill="none" stroke="#ff0000" stroke-width="2"/>
<polyline points="5,775 5.5,775 21.5,775 37.5,775 53.5,776.75 69.5,776.75 85.5,758.75 101.5,755 117.5,757 133.5,758.75 149.5,758 165.5,760 181.5,772.5 197.5,772.5 213.5,775 229.5,770 245.5,770 261.5,766.75 277.5,764.5 293.5,755 309.5,763 325.5,763 341.5,763 357.5,764.5 373.5,769.5 389.5,770 405.5,768 421.5,767 437.5,767 453.5,775.5 469.5,779.25 485.5,780.75 501.5,781.25 517.5,783.5 533.5,783.5 549.5,781.25 565.5,776.25 581.5,771.75 597.5,779.5 613.5,780 629.5,783.25 645.5,786.25 661.5,793.75 677.5,770.5 693.5,771.5 709.5,766.25 725.5,768.75 741.5,767.75 757.5,769.25 773.5,772.5 789.5,772.5 805.5,770.5 821.5,771 837.5,771.75 853.5,769.5 869.5,754 885.5,754 901.5,755.75 917.5,755.75 933.5,747.75 949.5,747.75 965.5,745 981.5,744.5 997.5,743.75 1013.5,749.25 1029.5,752.5 1045.5,754.25 1061.5,755.75 1077.5,756 1093.5,759 1109.5,758 1125.5,770 1141.5,765 1157.5,762.25 1173.5,759 1189.5,761 1205.5,760 1221.5,765 1237.5,772.25 1253.5,778 1269.5,783.75 1285.5,785" fill="none" stroke="#1e90ff" stroke-width="2"/>
<path d="M6 739.5H1641" stroke="#000" stroke-width="1" stroke-dasharray="3 3" fill="none"/>
<path d="M6 775.5H1641" stroke="#000" stroke-width="1" stroke-dasharray="3 3" fill="none"/>
<path d="M6 818.5H1641" stroke="#000" stroke-width="1" stroke-dasharray="3 3" fill="none"/>
<rect x="1643" y="113" width="41" height="11" fill="#ff0000"/>
<rect x="1643" y="151" width="41" height="11" fill="#ff0000"/>
<rect x="1643" y="191" width="41" height="11" fill="#ffa500"/>
<rect x="1643" y="205" width="41" height="11" fill="#000"/>
<rect x="1643" y="242" width="41" height="11" fill="#0000ff"/>
<rect x="1643" y="279" width="41" height="11" fill="#0000ff"/>
</g>
<text transform="translate(1647,122) scale(0.908,1)" font-size="10.0" fill="#fff" text-anchor="start" font-weight="normal" stroke="#fff" stroke-width="0.2">1.15670</text>
<text transform="translate(1647,160) scale(0.908,1)" font-size="10.0" fill="#fff" text-anchor="start" font-weight="normal" stroke="#fff" stroke-width="0.2">1.15216</text>
<text transform="translate(1647,200) scale(0.908,1)" font-size="10.0" fill="#fff" text-anchor="start" font-weight="normal" stroke="#fff" stroke-width="0.2">1.14740</text>
<text transform="translate(1647,214) scale(0.908,1)" font-size="10.0" fill="#fff" text-anchor="start" font-weight="normal" stroke="#fff" stroke-width="0.2">1.14590</text>
<text transform="translate(1647,251) scale(0.908,1)" font-size="10.0" fill="#fff" text-anchor="start" font-weight="normal" stroke="#fff" stroke-width="0.2">1.14135</text>
<text transform="translate(1647,288) scale(0.908,1)" font-size="10.0" fill="#fff" text-anchor="start" font-weight="normal" stroke="#fff" stroke-width="0.2">1.13695</text>
<g><line x1="1263.5" y1="102" x2="1350" y2="215" stroke="#4e9a2e" stroke-width="3.2"/><polygon points="1359.5,227.3 1341.7,218.4 1355.8,207.9" fill="#4e9a2e"/></g>
<g id="toolbar">
<g shape-rendering="crispEdges">
<rect x="238" y="0" width="1" height="22" fill="#a0a0a0"/>
<rect x="239" y="0" width="1" height="22" fill="#ffffff"/>
<rect x="606" y="0" width="1" height="22" fill="#a0a0a0"/>
<rect x="607" y="0" width="1" height="22" fill="#ffffff"/>
<rect x="912" y="0" width="1" height="22" fill="#a0a0a0"/>
<rect x="913" y="0" width="1" height="22" fill="#ffffff"/>
<rect x="1173" y="0" width="1" height="22" fill="#a0a0a0"/>
<rect x="1174" y="0" width="1" height="22" fill="#ffffff"/>
<use href="#grip" x="242" y="0"/>
<use href="#grip" x="610" y="0"/>
<use href="#grip" x="916" y="0"/>
<rect x="2" y="0" width="1" height="20" fill="#a0a0a0"/>
<rect x="333" y="0" width="1" height="20" fill="#a0a0a0"/>
<rect x="423" y="0" width="1" height="20" fill="#a0a0a0"/>
<rect x="485" y="0" width="1" height="20" fill="#a0a0a0"/>
<rect x="673" y="0" width="1" height="20" fill="#a0a0a0"/>
<rect x="277" y="0" width="24" height="20" fill="url(#chk)"/>
<rect x="276" y="0" width="1" height="20" fill="#a0a0a0"/>
<rect x="276" y="20" width="26" height="1" fill="#ffffff"/>
<rect x="301" y="0" width="1" height="20" fill="#ffffff"/>
<rect x="429" y="0" width="24" height="20" fill="url(#chk)"/>
<rect x="428" y="0" width="1" height="20" fill="#a0a0a0"/>
<rect x="428" y="20" width="26" height="1" fill="#ffffff"/>
<rect x="453" y="0" width="1" height="20" fill="#ffffff"/>
<rect x="457" y="0" width="24" height="20" fill="url(#chk)"/>
<rect x="456" y="0" width="1" height="20" fill="#a0a0a0"/>
<rect x="456" y="20" width="26" height="1" fill="#ffffff"/>
<rect x="481" y="0" width="1" height="20" fill="#ffffff"/>
<rect x="617" y="0" width="24" height="20" fill="url(#chk)"/>
<rect x="616" y="0" width="1" height="20" fill="#a0a0a0"/>
<rect x="616" y="20" width="26" height="1" fill="#ffffff"/>
<rect x="641" y="0" width="1" height="20" fill="#ffffff"/>
<rect x="1063" y="0" width="24" height="20" fill="url(#chk)"/>
<rect x="1062" y="0" width="1" height="20" fill="#a0a0a0"/>
<rect x="1062" y="20" width="26" height="1" fill="#ffffff"/>
<rect x="1087" y="0" width="1" height="20" fill="#ffffff"/>
<use href="#dd" x="517" y="9" fill="#000"/>
<use href="#dd" x="556" y="9" fill="#000"/>
<use href="#dd" x="595" y="9" fill="#000"/>
<use href="#dd" x="901" y="9" fill="#000"/>
</g>
<g transform="translate(12,2)"><use href="#doc"/><rect x="2.2" y="2.2" width="2.8" height="1.5" fill="#8c8c8c"/><path d="M2.2 6.5H8M2.2 8.5H6.8M2.2 10.5H4" stroke="#8c8c8c" stroke-width="0.9" fill="none"/></g>
<use href="#plus" transform="translate(16,8)"/>
<g><path d="M84.6 2.5L94.2 9.3L95.1 12L87.2 17.9H86L78.7 12.6V11.3L83 7Z" fill="#b47406"/><path d="M85 3.7L93 9.6L88.2 14.6L80.6 10.2L83.7 7Z" fill="url(#gGold2)"/><path d="M80 11.2L87.8 15.6L86.9 17L79.5 12.5Z" fill="#f4d878"/><path d="M80 12L87.2 16.4" stroke="#fff4c0" stroke-width="0.6" opacity="0.8"/><path d="M88.9 15.4L93.6 10.6L94.3 12L88.2 16.8Z" fill="#e6d898"/></g>
<g transform="translate(107,2)"><path d="M2 0.5L9.8 0.1L13 2V10H2Z" fill="#1aa8fa"/><path d="M2 0.5L5.5 2.6V10H2Z" fill="#0a8ef0"/><path d="M2.3 0.8L5.5 2.7L12.8 2.1" stroke="#c8ecff" stroke-width="0.7" fill="none"/><path d="M5.5 2.7V9" stroke="#f0faff" stroke-width="0.8"/><rect x="7" y="4.3" width="4.8" height="1.4" fill="#eaf8ff"/><rect x="6.6" y="6.6" width="5.8" height="0.8" fill="#7cd2ff"/><path d="M3 15.7Q0.5 15.7 0.5 13.5Q0.5 11.7 2.7 11.5Q3 9.9 5 10.1Q6 8.3 8.2 8.4Q10.4 8.5 11 10.3Q12.6 9.3 14 10.3Q15.2 11.1 14.8 12.3Q16 12.9 15.8 14.3Q15.6 15.7 13.6 15.7Z" fill="url(#gCloud)" stroke="#40609c" stroke-width="1.1"/></g>
<g transform="translate(135,2)" fill="none"><path d="M8 0.1A7.9 7.9 0 0 1 8 15.9Z" fill="url(#gRad)"/><path d="M8 8L15.9 8A7.9 7.9 0 0 1 8 15.9Z" fill="#3ca038" opacity="0.3"/><g stroke="#7aa4b4" opacity="0.45" stroke-width="0.9"><path d="M8 0.6A7.4 7.4 0 0 1 8 15.4"/><path d="M8 3.1A4.9 4.9 0 0 1 8 12.9"/><path d="M8 5.5A2.5 2.5 0 0 1 8 10.5"/></g><g stroke="#3a68d4" stroke-width="1"><path d="M8 0.6A7.4 7.4 0 0 0 8 15.4" opacity="0.55"/><path d="M8 3.1A4.9 4.9 0 0 0 8 12.9" opacity="0.6"/><path d="M8 5.5A2.5 2.5 0 0 0 8 10.5" opacity="0.7"/></g><circle cx="7.9" cy="7.8" r="1.6" fill="#2456c8"/><path d="M8.5 8.2V15.9" stroke="#12a012" stroke-width="1.3"/></g>
<g><path d="M162.6 9.2L178 8.6L178 11L170.4 17.8H169.4Z" fill="url(#gFace)" stroke="#c8a010" stroke-width="0.6"/><path d="M162.2 6.6Q162 5 164 5.2Q165.6 5.6 166 4.4Q166.4 2 169.4 1.9Q172.6 1.9 173 4.4Q174.4 5.4 176.4 4.4Q178.2 4 178 5.6Q177.4 8 172 8.8Q165 9.6 162.2 6.6Z" fill="url(#gHat)" stroke="#2a84b4" stroke-width="0.7"/><path d="M166.4 5.6Q169.4 7 172.8 5.4" stroke="#2a84b4" stroke-width="0.5" fill="none"/><circle cx="174.4" cy="13.7" r="4.2" fill="url(#gStop)"/><rect x="173.1" y="12.3" width="2.7" height="2.7" fill="#ffffff"/></g>
<g transform="translate(253,2)"><use href="#axes"/><path d="M9.5 3V12M9.5 4.5H12M7 10.5H9.5" stroke="#109010" stroke-width="1" fill="none" shape-rendering="crispEdges"/></g>
<g transform="translate(281,2)"><use href="#axes"/><path d="M9.5 0V11.5" stroke="#10a010" stroke-width="1" shape-rendering="crispEdges"/><rect x="7.5" y="2.5" width="4" height="7" fill="url(#gCandle)" stroke="#10a010" stroke-width="1"/></g>
<g transform="translate(309,2)"><use href="#axes"/><path d="M2.5 10.5Q5 9 6.5 6.5Q8 4.5 9.5 6Q11.5 8.5 14 9" stroke="#2a9a2a" stroke-width="1.1" fill="none"/></g>
<g transform="translate(348,7.7)"><path d="M3.6 4L8.5 9" stroke="#b08a10" stroke-width="3.2" stroke-linecap="round"/><path d="M3.6 4L8.5 9" stroke="#f0d450" stroke-width="1.8" stroke-linecap="round"/><circle cx="0" cy="0" r="5.6" fill="url(#gLens)" stroke="#3a78c8" stroke-width="1.1"/><path d="M-3 0H3" stroke="#3a80b8" stroke-width="1.6"/><path d="M0 -3V3" stroke="#3a80b8" stroke-width="1.6"/></g>
<g transform="translate(376,7.7)"><path d="M3.6 4L8.5 9" stroke="#b08a10" stroke-width="3.2" stroke-linecap="round"/><path d="M3.6 4L8.5 9" stroke="#f0d450" stroke-width="1.8" stroke-linecap="round"/><circle cx="0" cy="0" r="5.6" fill="url(#gLens)" stroke="#3a78c8" stroke-width="1.1"/><path d="M-3 0H3" stroke="#3a80b8" stroke-width="1.6"/></g>
<g transform="translate(398,2)"><rect x="0" y="0" width="8" height="8" rx="0.8" fill="url(#gTG)"/><rect x="1.2" y="0.9" width="1" height="1" fill="#fff" opacity="0.8"/><path d="M1.3 3.2H6.7V7.1H1.3Z" fill="#fff"/><rect x="2.2" y="4.3" width="3.6" height="1" fill="url(#gTG)" opacity="0.6"/></g>
<g transform="translate(406,2)"><rect x="0" y="0" width="8" height="8" rx="0.8" fill="url(#gTB)"/><rect x="1.2" y="0.9" width="1" height="1" fill="#fff" opacity="0.8"/><path d="M1.3 3.2H6.7V7.1H1.3Z" fill="#fff"/><rect x="2.2" y="4.3" width="3.6" height="1" fill="url(#gTB)" opacity="0.6"/></g>
<g transform="translate(398,10)"><rect x="0" y="0" width="8" height="8" rx="0.8" fill="url(#gTB)"/><rect x="1.2" y="0.9" width="1" height="1" fill="#fff" opacity="0.8"/><path d="M1.3 3.2H6.7V7.1H1.3Z" fill="#fff"/><rect x="2.2" y="4.3" width="3.6" height="1" fill="url(#gTB)" opacity="0.6"/></g>
<g transform="translate(406,10)"><rect x="0" y="0" width="8" height="8" rx="0.8" fill="url(#gTG)"/><rect x="1.2" y="0.9" width="1" height="1" fill="#fff" opacity="0.8"/><path d="M1.3 3.2H6.7V7.1H1.3Z" fill="#fff"/><rect x="2.2" y="4.3" width="3.6" height="1" fill="url(#gTG)" opacity="0.6"/></g>
<g transform="translate(433,2)"><use href="#axes"/><path d="M8.5 4L12.4 7.5L8.5 11Z" fill="#30c030" stroke="#109010" stroke-width="0.8"/></g>
<g transform="translate(461,2)"><use href="#axes"/><path d="M9.5 2V12" stroke="#1874a8" stroke-width="1" shape-rendering="crispEdges"/><path d="M10.5 7.5L13 5.6L12.4 7.5L13 9.4Z" fill="#e04800" stroke="#e04800" stroke-width="0.5"/><path d="M12 7.5H15" stroke="#e04800" stroke-width="1"/></g>
<g transform="translate(495,2)"><use href="#doc"/><path d="M5.5 3.2Q3.4 2.8 3.4 5V10.4M2.2 6.4H5" stroke="#6a6048" stroke-width="0.9" fill="none"/></g>
<use href="#plus" transform="translate(499,8)"/>
<g transform="translate(541,10)"><circle r="7.6" fill="url(#gClock)"/><circle r="5.4" fill="#fbfbfb"/><circle r="5.4" fill="none" stroke="#0a3c90" stroke-width="0.4"/><path d="M-0.4 -3.6V0.2H2.6" stroke="#303030" stroke-width="1.1" fill="none"/><path d="M-2 3.2H1.4" stroke="#78b8f0" stroke-width="0.7"/><g fill="#999"><circle cx="0" cy="-4.4" r="0.4"/><circle cx="4.4" cy="0" r="0.4"/><circle cx="0" cy="4.4" r="0.4"/><circle cx="-4.4" cy="0" r="0.4"/></g></g>
<g transform="translate(572,3)"><rect x="0.5" y="0.5" width="15" height="13.6" rx="0.8" fill="#fff" stroke="#3a70c0" stroke-width="1"/><rect x="1" y="1" width="14" height="2.2" fill="url(#gTpl)"/><rect x="1" y="8" width="14" height="1" fill="#4a80d0"/><path d="M2.4 6.6H4.4L6 5.2H7.2L8.6 4.2H9.6L10.6 5.2H12.2L13.6 4.2" stroke="#a82808" stroke-width="1.1" fill="none"/><path d="M3.4 11.6L4.6 10.8H5.6L6.8 11.6H8L9.6 10L10.6 9.4L11.8 10.6L12.8 11.8" stroke="#109018" stroke-width="1.1" fill="none"/></g>
<path d="M624.2 2.8V15L627 12.6L629.2 17.4L631.4 16.4L629.2 11.8L633 11.4Z" fill="#505050"/>
<g shape-rendering="crispEdges" fill="#404040"><rect x="649" y="10" width="6" height="1"/><rect x="658" y="10" width="6" height="1"/><rect x="656" y="3" width="1" height="6"/><rect x="656" y="12" width="1" height="6"/><rect x="656" y="10" width="1" height="1" fill="#807860"/>
<rect x="690" y="4" width="1" height="13"/><rect x="713" y="10" width="12" height="1"/></g>
<path d="M740.8 17L753 4.8" stroke="#484848" stroke-width="1.1"/>
<g stroke="#484848" stroke-width="0.9" fill="none"><path d="M767 12.2L776 4M768.5 16L779 6.4M771.8 17.4L781.6 8.6"/><path d="M769.5 9.6L769.2 15.4M772.6 7L772 13.2M775.6 4.4L775 10.6M778.8 2.2L778.8 8.6"/></g>
<text x="778" y="19" font-size="7" font-weight="bold" fill="#383838">E</text>
<g shape-rendering="crispEdges" fill="#484848">
<rect x="796" y="3" width="1" height="1" fill="#484848"/>
<rect x="798" y="3" width="1" height="1" fill="#484848"/>
<rect x="800" y="3" width="1" height="1" fill="#484848"/>
<rect x="802" y="3" width="1" height="1" fill="#484848"/>
<rect x="804" y="3" width="1" height="1" fill="#484848"/>
<rect x="806" y="3" width="1" height="1" fill="#484848"/>
<rect x="808" y="3" width="1" height="1" fill="#484848"/>
<rect x="796" y="6" width="1" height="1" fill="#484848"/>
<rect x="798" y="6" width="1" height="1" fill="#484848"/>
<rect x="800" y="6" width="1" height="1" fill="#484848"/>
<rect x="802" y="6" width="1" height="1" fill="#484848"/>
<rect x="804" y="6" width="1" height="1" fill="#484848"/>
<rect x="806" y="6" width="1" height="1" fill="#484848"/>
<rect x="808" y="6" width="1" height="1" fill="#484848"/>
<rect x="796" y="10" width="1" height="1" fill="#484848"/>
<rect x="798" y="10" width="1" height="1" fill="#484848"/>
<rect x="800" y="10" width="1" height="1" fill="#484848"/>
<rect x="802" y="10" width="1" height="1" fill="#484848"/>
<rect x="804" y="10" width="1" height="1" fill="#484848"/>
<rect x="806" y="10" width="1" height="1" fill="#484848"/>
<rect x="808" y="10" width="1" height="1" fill="#484848"/>
<rect x="796" y="14" width="1" height="1" fill="#484848"/>
<rect x="798" y="14" width="1" height="1" fill="#484848"/>
<rect x="800" y="14" width="1" height="1" fill="#484848"/>
<rect x="802" y="14" width="1" height="1" fill="#484848"/>
<rect x="804" y="14" width="1" height="1" fill="#484848"/>
</g>
<text x="806" y="19" font-size="7" font-weight="bold" fill="#383838">F</text>
<text x="826.3" y="15" font-size="12.5" fill="#505050" stroke="#505050" stroke-width="0.4">A</text>
<g shape-rendering="crispEdges" fill="#505050">
<rect x="853" y="4" width="1" height="1" fill="#505050"/>
<rect x="853" y="16" width="1" height="1" fill="#505050"/>
<rect x="855" y="4" width="1" height="1" fill="#505050"/>
<rect x="855" y="16" width="1" height="1" fill="#505050"/>
<rect x="857" y="4" width="1" height="1" fill="#505050"/>
<rect x="857" y="16" width="1" height="1" fill="#505050"/>
<rect x="859" y="4" width="1" height="1" fill="#505050"/>
<rect x="859" y="16" width="1" height="1" fill="#505050"/>
<rect x="861" y="4" width="1" height="1" fill="#505050"/>
<rect x="861" y="16" width="1" height="1" fill="#505050"/>
<rect x="863" y="4" width="1" height="1" fill="#505050"/>
<rect x="863" y="16" width="1" height="1" fill="#505050"/>
<rect x="865" y="4" width="1" height="1" fill="#505050"/>
<rect x="865" y="16" width="1" height="1" fill="#505050"/>
<rect x="853" y="4" width="1" height="1" fill="#505050"/>
<rect x="865" y="4" width="1" height="1" fill="#505050"/>
<rect x="853" y="6" width="1" height="1" fill="#505050"/>
<rect x="865" y="6" width="1" height="1" fill="#505050"/>
<rect x="853" y="8" width="1" height="1" fill="#505050"/>
<rect x="865" y="8" width="1" height="1" fill="#505050"/>
<rect x="853" y="10" width="1" height="1" fill="#505050"/>
<rect x="865" y="10" width="1" height="1" fill="#505050"/>
<rect x="853" y="12" width="1" height="1" fill="#505050"/>
<rect x="865" y="12" width="1" height="1" fill="#505050"/>
<rect x="853" y="14" width="1" height="1" fill="#505050"/>
<rect x="865" y="14" width="1" height="1" fill="#505050"/>
<rect x="853" y="16" width="1" height="1" fill="#505050"/>
<rect x="865" y="16" width="1" height="1" fill="#505050"/>
<rect x="852" y="3" width="2" height="1" fill="#505050"/>
</g>
<text x="854.6" y="14.8" font-size="11" fill="#505050" stroke="#505050" stroke-width="0.5" textLength="8.6" lengthAdjust="spacingAndGlyphs">T</text>
<g fill="#505050" transform="translate(-0.8,0)"><path d="M884.5 3.8L888.6 7.6H880.4Z"/><path d="M881.8 7.6H887.2V8.6H881.8Z"/><path d="M891 17L895.2 13H886.8Z"/><path d="M888.2 12H893.8V13H888.2Z"/><path d="M882.4 11.6L884.6 13.8L889.4 8.4" stroke="#505050" stroke-width="1.3" fill="none"/></g>
<text x="934" y="14" font-size="9.5" fill="#383838" text-anchor="middle">M1</text>
<text x="962" y="14" font-size="9.5" fill="#383838" text-anchor="middle">M5</text>
<text x="990.5" y="14" font-size="9.5" fill="#383838" text-anchor="middle">M15</text>
<text x="1018.2" y="14" font-size="9.5" fill="#383838" text-anchor="middle">M30</text>
<text x="1046.3" y="14" font-size="9.5" fill="#383838" text-anchor="middle">H1</text>
<text x="1073.7" y="14" font-size="9.5" fill="#383838" text-anchor="middle">H4</text>
<text x="1102.4" y="14" font-size="9.5" fill="#383838" text-anchor="middle">D1</text>
<text x="1131.1" y="14" font-size="9.5" fill="#383838" text-anchor="middle">W1</text>
<text x="1158" y="14" font-size="9.5" fill="#383838" text-anchor="middle">MN</text>
<text x="30.6" y="13.8" font-size="11.6" fill="#000" stroke="#000" stroke-width="0.25" textLength="36.6" lengthAdjust="spacing">新订单</text>
<text x="183" y="13.8" font-size="11.6" fill="#000" stroke="#000" stroke-width="0.25" textLength="48.4" lengthAdjust="spacing">自动交易</text>
<g fill="none"><circle cx="1643.7" cy="7.5" r="4" stroke="#2a5ad8" stroke-width="1.2" fill="#f4f6ff"/><path d="M1640.6 10.8L1636.2 15" stroke="#2a5ad8" stroke-width="2.2" stroke-linecap="round"/></g>
<g><path d="M1664 8.2Q1660.6 9 1660.4 12.4Q1660.6 15.4 1663 16.2L1662.6 18.4L1665.2 16.6Q1669.6 17 1672 15L1672 8Z" fill="#e4e4ec" stroke="#a8a8a8" stroke-width="0.7"/><circle cx="1674.5" cy="7" r="8.4" fill="url(#gBadge)"/><text x="1674.4" y="12" font-size="12" fill="#fff" text-anchor="middle">1</text></g>
</g>
</svg></body></html>
